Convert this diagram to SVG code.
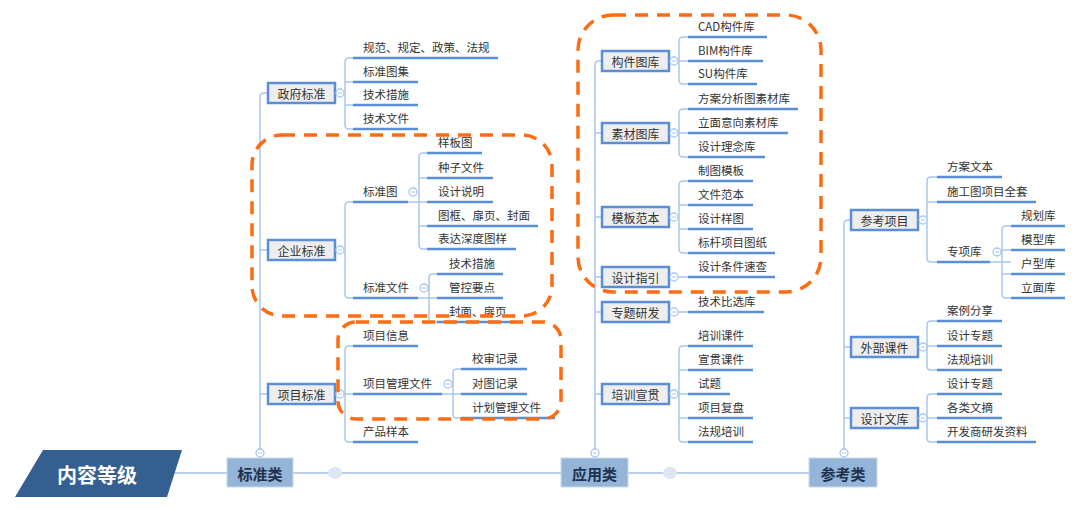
<svg xmlns="http://www.w3.org/2000/svg" width="1080" height="509" viewBox="0 0 1080 509">
<style>
text{font-family:"Noto Sans CJK SC","Liberation Sans",sans-serif}
.lbl{font-size:11.5px;fill:#333333}
.box{fill:#eeeeee;stroke:#5b8ed8;stroke-width:2.5}
.btx{font-size:12px;fill:#333333;text-anchor:middle;dominant-baseline:central}
.con{fill:none;stroke:#a9c8ee;stroke-width:1.5}
.ul{fill:none;stroke:#5b8ed8;stroke-width:2.5}
.tog{fill:#ffffff;stroke:#a9c8ee;stroke-width:1.3}
.cat{fill:#94b4d8;stroke:#c8daee;stroke-width:1}
.ctx{font-size:15px;font-weight:bold;fill:#1f3350;text-anchor:middle;dominant-baseline:central}
.dash{fill:none;stroke:#fc6c12;stroke-width:3.5;stroke-dasharray:13 9}
</style>
<defs>
<g id="tg"><circle r="4" class="tog"/><path d="M-2 0H2" stroke="#a9c8ee" stroke-width="1"/></g>
</defs>

<g id="connectors">
<path d="M167 473H810" stroke="#b8d0ec" stroke-width="2" fill="none"/>
<path class="con" d="M268 93H264Q260 93 260 97V449M260 250H268M260 394H268"/>
<path class="con" d="M602 61H599Q595 61 595 65V449M595 133H602M595 217H602M595 277H602M595 312H602M595 394H602"/>
<path class="con" d="M851 220H848Q844 220 844 224V449M844 347H851M844 418H851"/>
<!-- left children -->
<path class="con" d="M353 58H349Q345 58 345 62V125Q345 129 349 129H353M345 82H353M345 105H353M344 93H345"/>
<path class="con" d="M353 202H349Q345 202 345 206V294Q345 298 349 298H353"/>
<path class="con" d="M408 202H427M427 153H423Q419 153 419 157V245Q419 249 423 249H427M419 178H427M419 226H427"/>
<path class="con" d="M418 298H437M437 274H433Q429 274 429 278V318Q429 322 433 322H437"/>
<path class="con" d="M353 346H349Q345 346 345 350V438Q345 442 349 442H353M345 394H353"/>
<path class="con" d="M442 394H461M461 369H457Q453 369 453 373V414Q453 418 457 418H461"/>
<!-- middle children -->
<path class="con" d="M688 37H683Q679 37 679 41V80Q679 84 683 84H688M679 61H688"/>
<path class="con" d="M688 109H683Q679 109 679 113V153Q679 157 683 157H688M679 133H688"/>
<path class="con" d="M688 181H683Q679 181 679 185V249Q679 253 683 253H688M679 205H688M679 229H688"/>
<path class="con" d="M678 277H688M678 312H688"/>
<path class="con" d="M688 346H683Q679 346 679 350V438Q679 442 683 442H688M679 370H688M679 394H688M679 418H688"/>
<!-- right children -->
<path class="con" d="M937 177H931Q927 177 927 181V258Q927 262 931 262H937M927 202H937"/>
<path class="con" d="M990 262H1011M1011 226H1006Q1002 226 1002 230V294Q1002 298 1006 298H1011M1002 250H1011M1002 274H1011"/>
<path class="con" d="M937 321H931Q927 321 927 325V366Q927 370 931 370H937M927 346H937"/>
<path class="con" d="M937 394H931Q927 394 927 398V438Q927 442 931 442H937M927 418H937"/>
</g>

<g id="level">
<polygon points="43,450 182,450 167,497 15,497" fill="#355f91"/>
<text x="97" y="474" font-size="20" font-weight="bold" fill="#ffffff" text-anchor="middle" dominant-baseline="central">内容等级</text>
<ellipse cx="335" cy="473" rx="7" ry="6" fill="#dde7f3"/>
<ellipse cx="670" cy="473" rx="7" ry="6" fill="#dde7f3"/>
</g>

<g id="cat-std">
<rect class="cat" x="227" y="458" width="66" height="29"/>
<text class="ctx" x="260" y="473">标准类</text>
<use href="#tg" x="260" y="453"/>
</g>
<g id="cat-app">
<rect class="cat" x="561" y="458" width="67" height="29"/>
<text class="ctx" x="594.5" y="473">应用类</text>
<use href="#tg" x="595" y="453"/>
</g>
<g id="cat-ref">
<rect class="cat" x="809" y="458" width="68" height="29"/>
<text class="ctx" x="843" y="473">参考类</text>
<use href="#tg" x="844" y="453"/>
</g>

<!-- 政府标准 -->
<g id="gov">
<rect class="box" x="268" y="83" width="67" height="20"/>
<text class="btx" x="301.5" y="93">政府标准</text>
<use href="#tg" x="340" y="93"/>
<path class="ul" d="M353 58H498M353 82H418M353 105H418M353 129H418"/>
<text class="lbl" x="363" y="52">规范、规定、政策、法规</text>
<text class="lbl" x="363" y="76">标准图集</text>
<text class="lbl" x="363" y="99">技术措施</text>
<text class="lbl" x="363" y="123">技术文件</text>
</g>

<!-- 企业标准 -->
<g id="ent">
<rect class="box" x="268" y="240" width="67" height="20"/>
<text class="btx" x="301.5" y="250">企业标准</text>
<use href="#tg" x="340" y="250"/>
<path class="ul" d="M353 202H408M353 298H418"/>
<text class="lbl" x="363" y="196">标准图</text>
<text class="lbl" x="363" y="292">标准文件</text>
<use href="#tg" x="413" y="192"/>
<use href="#tg" x="424" y="288"/>
<path class="ul" d="M427 153H482M427 178H493M427 202H493M427 226H538M427 249H516"/>
<text class="lbl" x="438" y="147">样板图</text>
<text class="lbl" x="438" y="172">种子文件</text>
<text class="lbl" x="438" y="196">设计说明</text>
<text class="lbl" x="438" y="220">图框、扉页、封面</text>
<text class="lbl" x="438" y="243">表达深度图样</text>
<path class="ul" d="M437 274H503M437 298H503M437 322H515"/>
<text class="lbl" x="449" y="268">技术措施</text>
<text class="lbl" x="449" y="292">管控要点</text>
<text class="lbl" x="449" y="316">封面、扉页</text>
</g>

<!-- 项目标准 -->
<g id="proj">
<rect class="box" x="268" y="384" width="67" height="20"/>
<text class="btx" x="301.5" y="394">项目标准</text>
<use href="#tg" x="340" y="394"/>
<path class="ul" d="M353 346H418M353 394H442M353 442H418"/>
<text class="lbl" x="363" y="340">项目信息</text>
<text class="lbl" x="363" y="388">项目管理文件</text>
<text class="lbl" x="363" y="436">产品样本</text>
<use href="#tg" x="448" y="384"/>
<path class="ul" d="M461 369H527M461 394H527M461 418H555"/>
<text class="lbl" x="472" y="363">校审记录</text>
<text class="lbl" x="472" y="388">对图记录</text>
<text class="lbl" x="472" y="412">计划管理文件</text>
</g>

<!-- 构件图库 -->
<g id="comp">
<rect class="box" x="602" y="51" width="67" height="20"/>
<text class="btx" x="635.5" y="61">构件图库</text>
<use href="#tg" x="674" y="61"/>
<path class="ul" d="M688 37H767M688 61H763M688 84H757"/>
<text class="lbl" x="698" y="31">CAD构件库</text>
<text class="lbl" x="698" y="55">BIM构件库</text>
<text class="lbl" x="698" y="78">SU构件库</text>
</g>

<g id="mat">
<rect class="box" x="602" y="123" width="67" height="20"/>
<text class="btx" x="635.5" y="133">素材图库</text>
<use href="#tg" x="674" y="133"/>
<path class="ul" d="M688 109H798M688 133H788M688 157H765"/>
<text class="lbl" x="698" y="103">方案分析图素材库</text>
<text class="lbl" x="698" y="127">立面意向素材库</text>
<text class="lbl" x="698" y="151">设计理念库</text>
</g>

<g id="tpl">
<rect class="box" x="602" y="207" width="67" height="20"/>
<text class="btx" x="635.5" y="217">模板范本</text>
<use href="#tg" x="674" y="217"/>
<path class="ul" d="M688 181H753M688 205H753M688 229H753M688 253H775"/>
<text class="lbl" x="698" y="175">制图模板</text>
<text class="lbl" x="698" y="199">文件范本</text>
<text class="lbl" x="698" y="223">设计样图</text>
<text class="lbl" x="698" y="247">标杆项目图纸</text>
</g>

<g id="guide">
<rect class="box" x="602" y="267" width="67" height="20"/>
<text class="btx" x="635.5" y="277">设计指引</text>
<use href="#tg" x="674" y="277"/>
<path class="ul" d="M688 277H775"/>
<text class="lbl" x="698" y="271">设计条件速查</text>
</g>

<g id="topic">
<rect class="box" x="602" y="302" width="67" height="20"/>
<text class="btx" x="635.5" y="312">专题研发</text>
<use href="#tg" x="674" y="312"/>
<path class="ul" d="M688 312H764"/>
<text class="lbl" x="698" y="306">技术比选库</text>
</g>

<g id="train">
<rect class="box" x="602" y="384" width="67" height="20"/>
<text class="btx" x="635.5" y="394">培训宣贯</text>
<use href="#tg" x="674" y="394"/>
<path class="ul" d="M688 346H753M688 370H753M688 394H730M688 418H753M688 442H753"/>
<text class="lbl" x="698" y="340">培训课件</text>
<text class="lbl" x="698" y="364">宣贯课件</text>
<text class="lbl" x="698" y="388">试题</text>
<text class="lbl" x="698" y="412">项目复盘</text>
<text class="lbl" x="698" y="436">法规培训</text>
</g>

<!-- 参考项目 -->
<g id="refproj">
<rect class="box" x="851" y="210" width="67" height="20"/>
<text class="btx" x="884.5" y="220">参考项目</text>
<use href="#tg" x="923" y="220"/>
<path class="ul" d="M937 177H1002M937 202H1036M937 262H990"/>
<text class="lbl" x="947" y="171">方案文本</text>
<text class="lbl" x="947" y="196">施工图项目全套</text>
<text class="lbl" x="947" y="256">专项库</text>
<use href="#tg" x="997" y="252"/>
<path class="ul" d="M1011 226H1065M1011 250H1065M1011 274H1065M1011 298H1065"/>
<text class="lbl" x="1021" y="220">规划库</text>
<text class="lbl" x="1021" y="244">模型库</text>
<text class="lbl" x="1021" y="268">户型库</text>
<text class="lbl" x="1021" y="292">立面库</text>
</g>

<g id="ext">
<rect class="box" x="851" y="337" width="67" height="20"/>
<text class="btx" x="884.5" y="347">外部课件</text>
<use href="#tg" x="923" y="347"/>
<path class="ul" d="M937 321H1002M937 346H1002M937 370H1002"/>
<text class="lbl" x="947" y="315">案例分享</text>
<text class="lbl" x="947" y="340">设计专题</text>
<text class="lbl" x="947" y="364">法规培训</text>
</g>

<g id="lib">
<rect class="box" x="851" y="408" width="67" height="20"/>
<text class="btx" x="884.5" y="418">设计文库</text>
<use href="#tg" x="923" y="418"/>
<path class="ul" d="M937 394H1002M937 418H1002M937 442H1036"/>
<text class="lbl" x="947" y="388">设计专题</text>
<text class="lbl" x="947" y="412">各类文摘</text>
<text class="lbl" x="947" y="436">开发商研发资料</text>
</g>

<g id="highlights">
<rect class="dash" x="252" y="135" width="300" height="181" rx="30"/>
<rect class="dash" x="338" y="322" width="223" height="97" rx="18"/>
<rect class="dash" x="578" y="15" width="243" height="277" rx="35"/>
</g>
</svg>
